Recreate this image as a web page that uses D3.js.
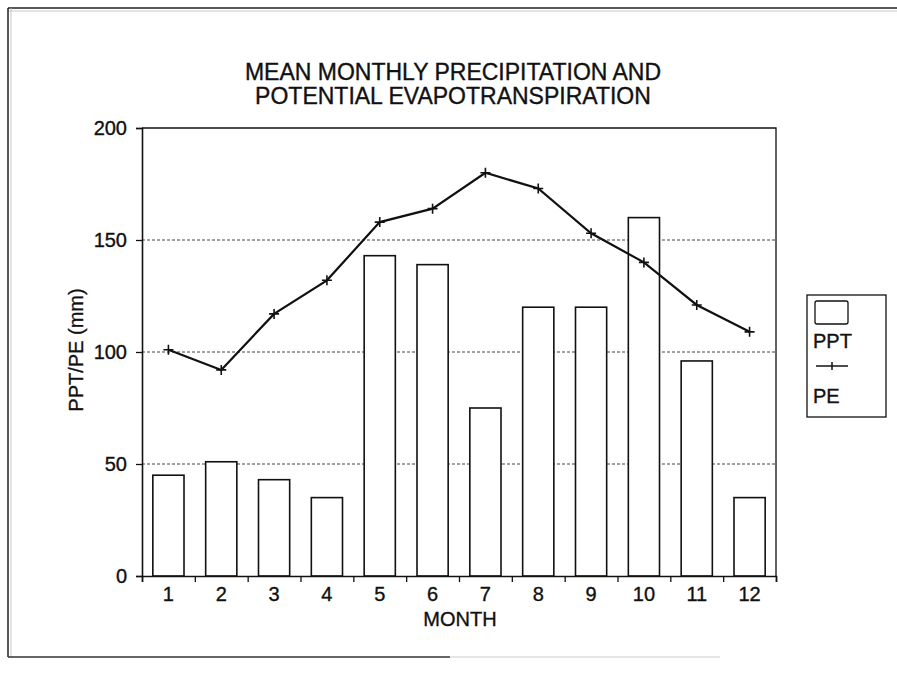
<!DOCTYPE html>
<html>
<head>
<meta charset="utf-8">
<script src="https://cdn.jsdelivr.net/npm/d3@7"></script>
<style>
  html, body { margin: 0; padding: 0; background: #fff; }
  svg { display: block; font-family: "Liberation Sans", Arial, sans-serif; }
  .lbl { fill: #111; stroke: #111; stroke-width: 0.35px; }
</style>
</head>
<body>
<svg id="chart" width="897" height="675"></svg>
<script>
// Monthly means
const months = [1, 2, 3, 4, 5, 6, 7, 8, 9, 10, 11, 12];
const pptValues = [45, 51, 43, 35, 143, 139, 75, 120, 120, 160, 96, 35];
const peValues = [101, 92, 117, 132, 158, 164, 180, 173, 153, 140, 121, 109];
const yTicks = [0, 50, 100, 150, 200];

const titleLines = ["MEAN MONTHLY PRECIPITATION AND", "POTENTIAL EVAPOTRANSPIRATION"];

const svg = d3.select("#chart");
const plot = { left: 142, right: 776, top: 128, bottom: 576 };
const labelSize = 20;

// Outer frame around the whole chart
const frame = svg.append("g").attr("fill", "none");
frame.append("line").attr("x1", 8).attr("y1", 8).attr("x2", 897).attr("y2", 8)
  .attr("stroke", "#222").attr("stroke-width", 1.5);
frame.append("line").attr("x1", 8).attr("y1", 11).attr("x2", 897).attr("y2", 11)
  .attr("stroke", "#bbb").attr("stroke-width", 0.8);
frame.append("line").attr("x1", 8).attr("y1", 8).attr("x2", 8).attr("y2", 657)
  .attr("stroke", "#222").attr("stroke-width", 1.5);
frame.append("line").attr("x1", 11).attr("y1", 8).attr("x2", 11).attr("y2", 657)
  .attr("stroke", "#bbb").attr("stroke-width", 0.8);
frame.append("line").attr("x1", 8).attr("y1", 657).attr("x2", 450).attr("y2", 657)
  .attr("stroke", "#333").attr("stroke-width", 1.3);
frame.append("line").attr("x1", 450).attr("y1", 657).attr("x2", 720).attr("y2", 657)
  .attr("stroke", "#ccc").attr("stroke-width", 1);

// Scales
const x = d3.scaleBand().domain(months).range([plot.left, plot.right]).paddingInner(0.41).paddingOuter(0.205);
const xEdge = d3.scaleLinear().domain([0, 12]).range([plot.left, plot.right]);
const y = d3.scaleLinear().domain([0, 200]).range([plot.bottom, plot.top]);

// Title
svg.append("g").selectAll("text").data(titleLines).join("text")
  .attr("class", "lbl")
  .attr("x", 453).attr("y", (d, i) => 80 + i * 24)
  .attr("text-anchor", "middle")
  .attr("font-size", 23)
  .text(d => d);

// Gridlines
svg.append("g").selectAll("line").data(yTicks.filter(t => t > 0 && t < 200)).join("line")
  .attr("x1", plot.left).attr("x2", plot.right)
  .attr("y1", d => y(d)).attr("y2", d => y(d))
  .attr("stroke", "#444").attr("stroke-width", 1).attr("stroke-dasharray", "3,2");

// Plot border (top and right)
svg.append("path")
  .attr("d", `M${plot.left},${plot.top}H${plot.right}V${plot.bottom}`)
  .attr("fill", "none").attr("stroke", "#111").attr("stroke-width", 1.3);

// PPT bars
svg.append("g").selectAll("rect").data(months).join("rect")
  .attr("x", (d) => x(d))
  .attr("y", (d, i) => y(pptValues[i]))
  .attr("width", x.bandwidth())
  .attr("height", (d, i) => plot.bottom - y(pptValues[i]))
  .attr("fill", "#fff").attr("stroke", "#111").attr("stroke-width", 1.6);

// PE line and markers
const peLine = d3.line().x((d, i) => x(months[i]) + x.bandwidth() / 2).y(d => y(d));
svg.append("path").datum(peValues)
  .attr("d", peLine)
  .attr("fill", "none").attr("stroke", "#111").attr("stroke-width", 2.2);
const crossPath = "M-5,0H5M0,-5V5";
svg.append("g").selectAll("path").data(peValues).join("path")
  .attr("transform", (d, i) => `translate(${x(months[i]) + x.bandwidth() / 2},${y(d)})`)
  .attr("d", crossPath)
  .attr("stroke", "#111").attr("stroke-width", 1.6).attr("fill", "none");

// Y axis
const yAxis = svg.append("g").attr("transform", `translate(${plot.left},0)`)
  .call(d3.axisLeft(y).tickValues(yTicks).tickSize(6).tickPadding(9));
yAxis.select(".domain").attr("stroke", "#111").attr("stroke-width", 1.6);
yAxis.selectAll(".tick line").attr("stroke", "#111").attr("stroke-width", 1.3);
yAxis.selectAll(".tick text").attr("class", "lbl").attr("font-size", labelSize)
  .attr("font-family", "'Liberation Sans', Arial, sans-serif");

// X axis: category labels
const xAxis = svg.append("g").attr("transform", `translate(0,${plot.bottom})`)
  .call(d3.axisBottom(x).tickSize(0).tickPadding(11));
xAxis.select(".domain").remove();
xAxis.selectAll(".tick text").attr("class", "lbl").attr("font-size", labelSize)
  .attr("font-family", "'Liberation Sans', Arial, sans-serif");

// X axis: baseline with boundary ticks
const xEdges = svg.append("g").attr("transform", `translate(0,${plot.bottom})`)
  .call(d3.axisBottom(xEdge).tickValues(d3.range(0, 13)).tickSize(6).tickSizeOuter(6).tickFormat(""));
xEdges.select(".domain").attr("stroke", "#111").attr("stroke-width", 1.6);
xEdges.selectAll(".tick line").attr("stroke", "#111").attr("stroke-width", 1.3);

// Axis titles
svg.append("text").attr("class", "lbl")
  .attr("x", 460).attr("y", 626)
  .attr("text-anchor", "middle").attr("font-size", labelSize)
  .text("MONTH");
svg.append("text").attr("class", "lbl")
  .attr("transform", `translate(83,${(plot.top + plot.bottom) / 2 - 2}) rotate(-90)`)
  .attr("text-anchor", "middle").attr("font-size", labelSize)
  .text("PPT/PE (mm)");

// Legend
const legend = svg.append("g");
legend.append("rect").attr("x", 807).attr("y", 295).attr("width", 79).attr("height", 122)
  .attr("fill", "#fff").attr("stroke", "#111").attr("stroke-width", 1.3);
legend.append("rect").attr("x", 815).attr("y", 301).attr("width", 33).attr("height", 23).attr("rx", 2)
  .attr("fill", "#fff").attr("stroke", "#111").attr("stroke-width", 1.3);
legend.append("text").attr("class", "lbl").attr("x", 813).attr("y", 348).attr("font-size", labelSize).text("PPT");
legend.append("line").attr("x1", 816).attr("x2", 848).attr("y1", 366).attr("y2", 366)
  .attr("stroke", "#111").attr("stroke-width", 1.5);
legend.append("path").attr("transform", "translate(832,366)").attr("d", "M0,-4V4")
  .attr("stroke", "#111").attr("stroke-width", 1.5);
legend.append("text").attr("class", "lbl").attr("x", 813).attr("y", 403).attr("font-size", labelSize).text("PE");
</script>
</body>
</html>
